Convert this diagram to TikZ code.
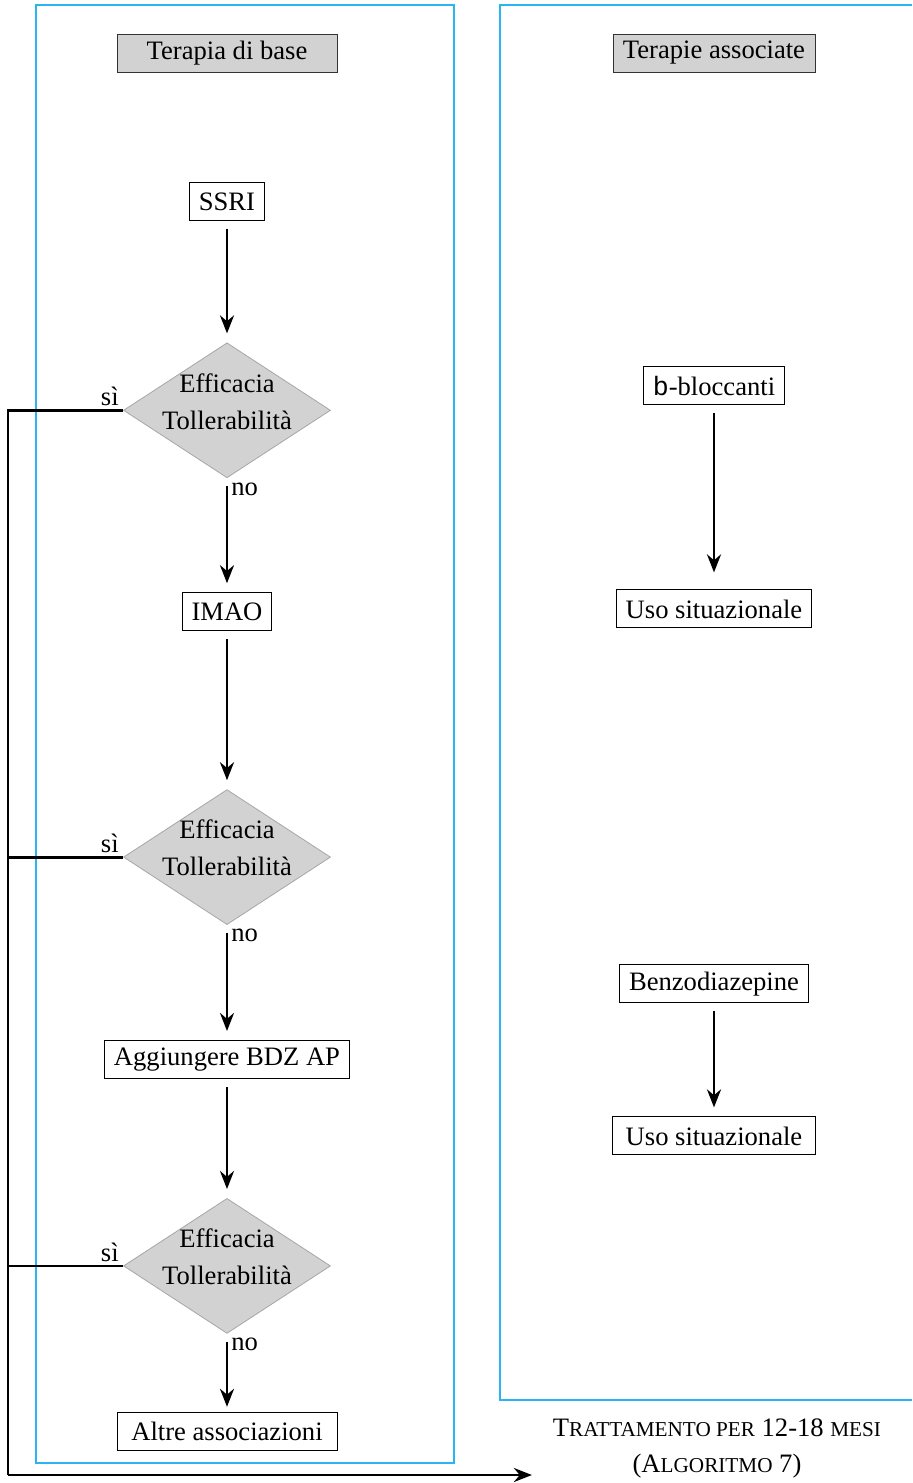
\documentclass[tikz,border=0pt]{standalone}
\usepackage{fontspec}
\setmainfont{Liberation Serif}
\setmonofont{Liberation Mono}
\usetikzlibrary{shapes.geometric,arrows.meta,positioning}

\definecolor{lanecyan}{RGB}{41,182,240}
\newcommand{\fakesc}[1]{{\fontsize{10.6}{12}\selectfont #1}}

\tikzset{
  lane/.style={draw=lanecyan, line width=0.8pt},
  header/.style={draw=black!80, fill=gray!35, minimum height=19pt, inner xsep=5pt},
  stepbox/.style={draw, line width=0.5pt, minimum height=19pt, inner xsep=4.5pt},
  check/.style={diamond, aspect=1.53, draw=gray!70, fill=gray!35, minimum width=103.5pt,
    minimum height=67.5pt, inner sep=-5pt, text depth=9pt, align=center,
    font=\fontsize{13.3}{18.5}\selectfont},
  flow/.style={line width=1.4pt, -{Stealth[length=9pt,width=7pt]},
    shorten <=4pt, shorten >=4.5pt},
  loop/.style={line width=1.4pt},
  lbl/.style={inner sep=1.5pt}
}

\begin{document}
\begin{tikzpicture}[x=0.5pt, y=-0.5pt, font=\fontsize{13.3}{16}\selectfont]
  \useasboundingbox (0,0) rectangle (912,1483);

  \draw[lane] (36,5) rectangle (454,1463);
  \draw[lane] (912,5) -- (500,5) -- (500,1400) -- (912,1400);

  \node (base)
        [header, minimum width=110pt]
        at (227,53) {Terapia di base};
  \node (ssri)
        [stepbox, below=55pt of base]
        {SSRI};
  \node (check1)
        [check, below=60.5pt of ssri]
        {Efficacia\\Tollerabilità};
  \node (imao)
        [stepbox, below=57pt of check1]
        {IMAO};
  \node (check2)
        [check, below=79pt of imao]
        {Efficacia\\Tollerabilità};
  \node (bdz)
        [stepbox, below=57.5pt of check2]
        {Aggiungere BDZ AP};
  \node (check3)
        [check, below=59.5pt of bdz]
        {Efficacia\\Tollerabilità};
  \node (altre)
        [stepbox, minimum width=110pt, below=39pt of check3]
        {Altre associazioni};

  \node (assoc)
        [header]
        at (714,53) {Terapie associate};
  \node (beta)
        [stepbox, below=147pt of assoc]
        {\texttt{b}-bloccanti};
  \node (uso1)
        [stepbox, below=92pt of beta]
        {Uso situazionale};
  \node (benzo)
        [stepbox, minimum width=94.5pt, below=168pt of uso1]
        {Benzodiazepine};
  \node (uso2)
        [stepbox, minimum width=101.5pt, below=56.5pt of benzo]
        {Uso situazionale};

  \node (algo)
        [align=center, font=\fontsize{13.3}{18}\selectfont]
        at (717,1448)
        {T\fakesc{RATTAMENTO PER} 12-18 \fakesc{MESI}\\(A\fakesc{LGORITMO} 7)};

  \coordinate (out) at (8,1475);

  \draw[flow] (ssri) -- (check1);
  \draw[flow] (check1) -- node[lbl, pos=0, anchor=north west] (no1) {no} (imao);
  \draw[flow] (imao) -- (check2);
  \draw[flow] (check2) -- node[lbl, pos=0, anchor=north west] (no2) {no} (bdz);
  \draw[flow] (bdz) -- (check3);
  \draw[flow, shorten >=2.5pt] (check3) -- node[lbl, pos=0, anchor=north west] (no3) {no} (altre);

  \draw[loop] (check1.west) node[lbl, anchor=south east] (si1) {sì} -| (out);
  \draw[loop] (check2.west) node[lbl, anchor=south east] (si2) {sì} -- (check2.west -| out);
  \draw[loop] (check3.west) node[lbl, anchor=south east] (si3) {sì} -- (check3.west -| out);
  \draw[flow, shorten <=0pt, shorten >=7pt] (out) -- (out -| algo.west);

  \draw[flow, shorten >=8.5pt] (beta) -- (uso1);
  \draw[flow] (benzo) -- (uso2);
\end{tikzpicture}
\end{document}
